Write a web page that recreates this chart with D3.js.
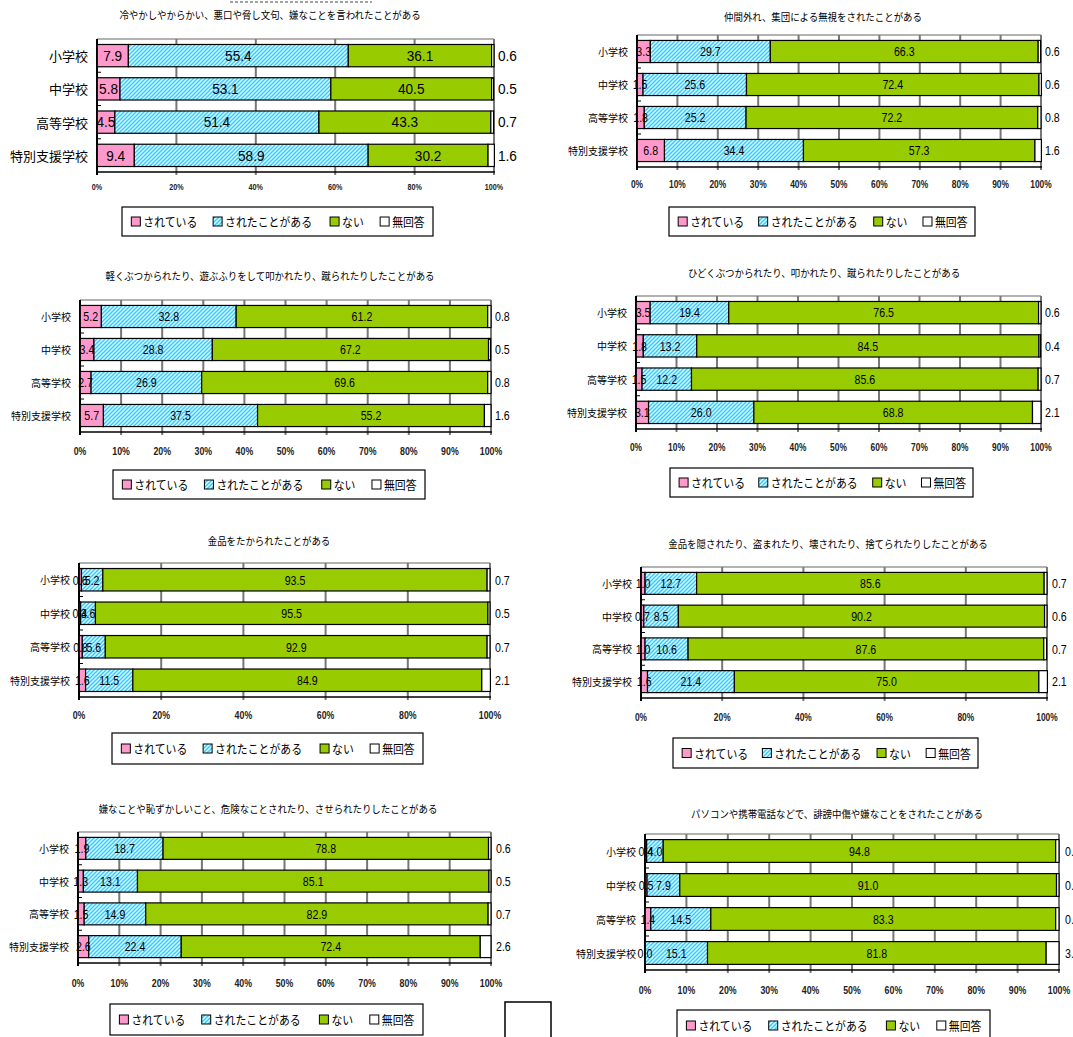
<!DOCTYPE html>
<html>
<head>
<meta charset="utf-8">
<script src="https://cdn.jsdelivr.net/npm/d3@7"></script>
<style>
  html, body { margin: 0; padding: 0; background: #fff; overflow: hidden; }
  svg { display: block; }
</style>
</head>
<body>
<svg id="chart" width="1073" height="1037"></svg>
<script>
// ---- data ----
const schools = ["小学校", "中学校", "高等学校", "特別支援学校"];
const seriesNames = ["されている", "されたことがある", "ない", "無回答"];

const titles = [
  "冷やかしやからかい、悪口や脅し文句、嫌なことを言われたことがある",
  "仲間外れ、集団による無視をされたことがある",
  "軽くぶつかられたり、遊ぶふりをして叩かれたり、蹴られたりしたことがある",
  "ひどくぶつかられたり、叩かれたり、蹴られたりしたことがある",
  "金品をたかられたことがある",
  "金品を隠されたり、盗まれたり、壊されたり、捨てられたりしたことがある",
  "嫌なことや恥ずかしいこと、危険なことされたり、させられたりしたことがある",
  "パソコンや携帯電話などで、誹謗中傷や嫌なことをされたことがある"
];

// rows: 小学校, 中学校, 高等学校, 特別支援学校 ; columns follow seriesNames
const teasing     = [[7.9, 55.4, 36.1, 0.6], [5.8, 53.1, 40.5, 0.5], [4.5, 51.4, 43.3, 0.7], [9.4, 58.9, 30.2, 1.6]];
const exclusion   = [[3.3, 29.7, 66.3, 0.6], [1.5, 25.6, 72.4, 0.6], [1.8, 25.2, 72.2, 0.8], [6.8, 34.4, 57.3, 1.6]];
const lightHits   = [[5.2, 32.8, 61.2, 0.8], [3.4, 28.8, 67.2, 0.5], [2.7, 26.9, 69.6, 0.8], [5.7, 37.5, 55.2, 1.6]];
const hardHits    = [[3.5, 19.4, 76.5, 0.6], [1.8, 13.2, 84.5, 0.4], [1.5, 12.2, 85.6, 0.7], [3.1, 26.0, 68.8, 2.1]];
const extortion   = [[0.6, 5.2, 93.5, 0.7], [0.4, 3.6, 95.5, 0.5], [0.8, 5.6, 92.9, 0.7], [1.6, 11.5, 84.9, 2.1]];
const belongings  = [[1.0, 12.7, 85.6, 0.7], [0.7, 8.5, 90.2, 0.6], [1.0, 10.6, 87.6, 0.7], [1.6, 21.4, 75.0, 2.1]];
const forcedActs  = [[1.9, 18.7, 78.8, 0.6], [1.3, 13.1, 85.1, 0.5], [1.5, 14.9, 82.9, 0.7], [2.6, 22.4, 72.4, 2.6]];
const online      = [[0.4, 4.0, 94.8, 0.8], [0.5, 7.9, 91.0, 0.6], [1.4, 14.5, 83.3, 0.8], [0.0, 15.1, 81.8, 3.1]];

const ticksBy10 = [0, 10, 20, 30, 40, 50, 60, 70, 80, 90, 100];
const ticksBy20 = [0, 20, 40, 60, 80, 100];

// ---- layout of the eight panels ----
const panels = [
  { title: titles[0], values: teasing,    ticks: ticksBy20, x0: 97,  x1: 494,  y0: 39,  y1: 172, titleX: 270, titleY: 14,  tickY: 187, lg: [122, 207, 311, 29], catFont: 13, valFont: 15.5, valScale: 0.88, tickFont: 9,   titleFont: 10.5, gap: 4 },
  { title: titles[1], values: exclusion,  ticks: ticksBy10, x0: 637, x1: 1041, y0: 35,  y1: 167, titleX: 823, titleY: 16,  tickY: 184, lg: [669, 207, 306, 29], catFont: 10, valFont: 12.5, valScale: 0.85, tickFont: 10.5, titleFont: 10.5, gap: 4 },
  { title: titles[2], values: lightHits,  ticks: ticksBy10, x0: 80,  x1: 491,  y0: 300, y1: 432, titleX: 270, titleY: 275, tickY: 451, lg: [113, 470, 312, 29], catFont: 10, valFont: 12.5, valScale: 0.85, tickFont: 11,  titleFont: 10.5, gap: 4 },
  { title: titles[3], values: hardHits,   ticks: ticksBy10, x0: 636, x1: 1041, y0: 296, y1: 429, titleX: 824, titleY: 272, tickY: 447, lg: [670, 468, 303, 29], catFont: 10, valFont: 12.5, valScale: 0.85, tickFont: 10.5, titleFont: 10.5, gap: 4 },
  { title: titles[4], values: extortion,  ticks: ticksBy20, x0: 79,  x1: 490,  y0: 563, y1: 697, titleX: 269, titleY: 540, tickY: 715, lg: [112, 733, 311, 31], catFont: 10, valFont: 12.5, valScale: 0.85, tickFont: 11,  titleFont: 10.5, gap: 5 },
  { title: titles[5], values: belongings, ticks: ticksBy20, x0: 641, x1: 1047, y0: 567, y1: 698, titleX: 828, titleY: 543, tickY: 717, lg: [673, 738, 305, 30], catFont: 10, valFont: 12.5, valScale: 0.85, tickFont: 10.5, titleFont: 10.5, gap: 5 },
  { title: titles[6], values: forcedActs, ticks: ticksBy10, x0: 78,  x1: 491,  y0: 832, y1: 963, titleX: 268, titleY: 808, tickY: 983, lg: [110, 1004, 313, 31], catFont: 10, valFont: 12.5, valScale: 0.85, tickFont: 11, titleFont: 10.5, gap: 5 },
  { title: titles[7], values: online,     ticks: ticksBy10, x0: 645, x1: 1059, y0: 834, y1: 970, titleX: 837, titleY: 813, tickY: 990, lg: [677, 1010, 313, 31], catFont: 10, valFont: 12.5, valScale: 0.85, tickFont: 11, titleFont: 10.5, gap: 6 }
];

const colors = ["#ff99cc", "url(#hatch)", "#99cc00", "#ffffff"];
const jpFont = "'Noto Sans CJK JP', 'Noto Sans', sans-serif";
const numFont = "'Liberation Sans', Arial, sans-serif";

const svg = d3.select("#chart");

// place a text at (x, y) with a horizontal squeeze
function squeezed(sel, xf, yf, sx) {
  return sel.attr("transform", (d, i) => `translate(${xf(d, i)},${yf(d, i)}) scale(${sx},1)`);
}

// diagonal cyan hatch for されたことがある
const defs = svg.append("defs");
const pat = defs.append("pattern")
  .attr("id", "hatch").attr("patternUnits", "userSpaceOnUse")
  .attr("width", 4).attr("height", 4);
pat.append("rect").attr("width", 4).attr("height", 4).attr("fill", "#eafcff");
pat.append("path")
  .attr("d", "M-1,1 L1,-1 M0,4 L4,0 M3,5 L5,3")
  .attr("stroke", "#33ccff").attr("stroke-width", 1.5);

// small dashed rule above the first panel
svg.append("line")
  .attr("x1", 230).attr("x2", 372).attr("y1", 2).attr("y2", 2)
  .attr("stroke", "#444").attr("stroke-width", 1).attr("stroke-dasharray", "3,2");

// empty frame near the bottom centre
svg.append("rect")
  .attr("x", 505).attr("y", 1002).attr("width", 46).attr("height", 50)
  .attr("fill", "none").attr("stroke", "#000").attr("stroke-width", 1.5);

const stack = d3.stack().keys(d3.range(seriesNames.length));

panels.forEach(p => {
  const g = svg.append("g");
  const x = d3.scaleLinear().domain([0, 100]).range([p.x0, p.x1]);
  const y = d3.scaleBand().domain(schools).range([p.y0, p.y1])
    .paddingInner(0.33).paddingOuter(0.165);

  // title
  squeezed(g.append("text").datum(p.title), () => p.titleX, () => p.titleY, 0.9)
    .attr("text-anchor", "middle").attr("dominant-baseline", "central")
    .style("font-family", jpFont).style("font-size", p.titleFont + "px")
    .text(d => d);

  // plot frame top and vertical gridlines
  g.append("line")
    .attr("x1", p.x0).attr("x2", p.x1).attr("y1", p.y0).attr("y2", p.y0)
    .attr("stroke", "#999").attr("stroke-width", 1.5);
  g.selectAll(".grid").data(p.ticks).join("line")
    .attr("x1", d => x(d)).attr("x2", d => x(d))
    .attr("y1", p.y0).attr("y2", p.y1 + 3)
    .attr("stroke", d => d === 0 ? "#000" : "#777")
    .attr("stroke-width", 2);

  // stacked bars
  const rows = p.values.map(v => Object.assign({}, v));
  const layers = stack(rows);
  layers.forEach((layer, si) => {
    g.selectAll(".seg" + si).data(layer).join("rect")
      .attr("x", d => x(d[0]))
      .attr("y", (d, i) => y(schools[i]))
      .attr("width", d => Math.max(0, x(d[1]) - x(d[0])))
      .attr("height", y.bandwidth())
      .attr("fill", colors[si])
      .attr("stroke", "#000").attr("stroke-width", 1.2);
  });

  // axis lines
  g.append("line")
    .attr("x1", p.x0).attr("x2", p.x0).attr("y1", p.y0).attr("y2", p.y1)
    .attr("stroke", "#000").attr("stroke-width", 1.5);
  g.append("line")
    .attr("x1", p.x0).attr("x2", p.x1 + 1).attr("y1", p.y1).attr("y2", p.y1)
    .attr("stroke", "#000").attr("stroke-width", 1.5);
  // category separators on the value axis
  g.selectAll(".sep").data(d3.range(1, schools.length)).join("line")
    .attr("x1", p.x0).attr("x2", p.x0 + 4)
    .attr("y1", i => p.y0 + (p.y1 - p.y0) * i / schools.length)
    .attr("y2", i => p.y0 + (p.y1 - p.y0) * i / schools.length)
    .attr("stroke", "#000").attr("stroke-width", 1);

  // category labels
  g.selectAll(".cat").data(schools).join("text")
    .attr("x", p.x0 - 9).attr("y", d => y(d) + y.bandwidth() / 2)
    .attr("text-anchor", "end").attr("dominant-baseline", "central")
    .style("font-family", jpFont).style("font-size", p.catFont + "px")
    .text(d => d);

  // tick labels
  squeezed(g.selectAll(".tick").data(p.ticks).join("text"), d => x(d), () => p.tickY, 0.8)
    .attr("text-anchor", "middle").attr("dominant-baseline", "central")
    .style("font-family", numFont).style("font-weight", "bold")
    .style("font-size", p.tickFont + "px").attr("fill", "#222")
    .text(d => d + "%");

  // value labels
  layers.forEach((layer, si) => {
    squeezed(g.selectAll(".val" + si).data(layer).join("text"),
        d => si === 3 ? p.x1 + p.gap : x((d[0] + d[1]) / 2),
        (d, i) => y(schools[i]) + y.bandwidth() / 2,
        p.valScale)
      .attr("text-anchor", si === 3 ? "start" : "middle")
      .attr("dominant-baseline", "central")
      .style("font-family", numFont).style("font-size", p.valFont + "px")
      .text(d => (d[1] - d[0]).toFixed(1));
  });

  // legend
  const [lx, ly, lw, lh] = p.lg;
  const lg = g.append("g");
  lg.append("rect").attr("x", lx).attr("y", ly).attr("width", lw).attr("height", lh)
    .attr("fill", "#fff").attr("stroke", "#000").attr("stroke-width", 1.2);
  const offsets = [0.03, 0.293, 0.669, 0.83];
  seriesNames.forEach((name, i) => {
    const ix = lx + lw * offsets[i];
    const cy = ly + lh / 2;
    lg.append("rect").attr("x", ix).attr("y", cy - 4.5).attr("width", 9).attr("height", 9)
      .attr("fill", colors[i]).attr("stroke", "#000").attr("stroke-width", 1);
    squeezed(lg.append("text").datum(name), () => ix + 12, () => cy, 0.87)
      .attr("dominant-baseline", "central")
      .style("font-family", jpFont).style("font-size", "12.5px")
      .text(d => d);
  });
});
</script>
</body>
</html>
